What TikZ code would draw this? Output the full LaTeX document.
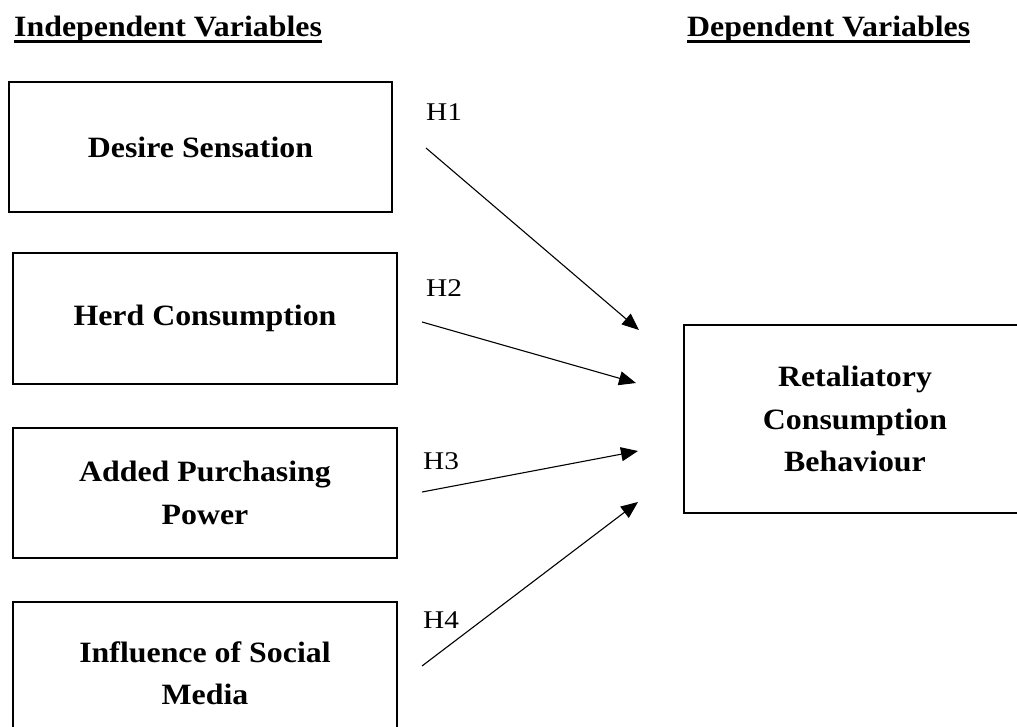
\documentclass[tikz,border=0pt]{standalone}
\usepackage{fontspec}
\setmainfont{Liberation Serif}
\usepackage{graphicx}
\usetikzlibrary{arrows.meta}
\newcommand{\hstr}[1]{\scalebox{1.08}[1]{#1}}
\newcommand{\lstr}[1]{\scalebox{1.15}[1]{#1}}
\begin{document}
\begin{tikzpicture}[x=1pt,y=-1pt,
  box/.style={draw, line width=2.2pt, inner sep=0pt, align=center,
    font=\fontsize{29.5}{42.5}\selectfont\bfseries},
  hdr/.style={inner sep=0pt, anchor=base west, font=\fontsize{29.5}{34}\selectfont\bfseries},
  hlab/.style={inner sep=0pt, anchor=base west, font=\fontsize{25.5}{30}\selectfont},
  link/.style={line width=1.1pt, -{Triangle[length=17pt,width=14pt]}},
  uline/.style={line width=3.5pt}]
\useasboundingbox (0,0) rectangle (1017,727);
\clip (0,0) rectangle (1017,727);

% headers
\node[hdr] (hi) at (14,37) {\hstr{Independent Variables}};
\node[hdr] (hd) at (687,37) {\hstr{Dependent Variables}};
\draw[uline] ([yshift=-4.5pt]hi.base west) -- ([yshift=-4.5pt]hi.base east);
\draw[uline] ([yshift=-4.5pt]hd.base west) -- ([yshift=-4.5pt]hd.base east);

% boxes
\node[box, minimum width=383pt, minimum height=130pt] (ds) at (200.5,147) {\hstr{Desire Sensation}};
\node[box, minimum width=384pt, minimum height=131pt] (hc) at (205,318.5) {\hstr{Herd Consumption}};
\node[box, minimum width=384pt, minimum height=130pt] (ap) at (205,493) {\hstr{Added Purchasing}\\\hstr{Power}};
\node[box, minimum width=384pt, minimum height=143pt] (sm) at (205,673.5) {\hstr{Influence of Social}\\\hstr{Media}};
\node[box, minimum width=342pt, minimum height=188pt] (rc) at (855,419) {\hstr{Retaliatory}\\\hstr{Consumption}\\\hstr{Behaviour}};

% hypothesis labels
\node[hlab] (h1) at (426,121) {\lstr{H1}};
\node[hlab] (h2) at (426,297) {\lstr{H2}};
\node[hlab] (h3) at (423,469) {\lstr{H3}};
\node[hlab] (h4) at (423,628) {\lstr{H4}};

% arrow end points
\coordinate (s1) at (426,148);
\coordinate (e1) at (639,330);
\coordinate (s2) at (422,322);
\coordinate (e2) at (636,383);
\coordinate (s3) at (422,492);
\coordinate (e3) at (638,451);
\coordinate (s4) at (422,666);
\coordinate (e4) at (638,502);

\draw[link] (s1) -- (e1);
\draw[link] (s2) -- (e2);
\draw[link] (s3) -- (e3);
\draw[link] (s4) -- (e4);
\end{tikzpicture}
\end{document}
